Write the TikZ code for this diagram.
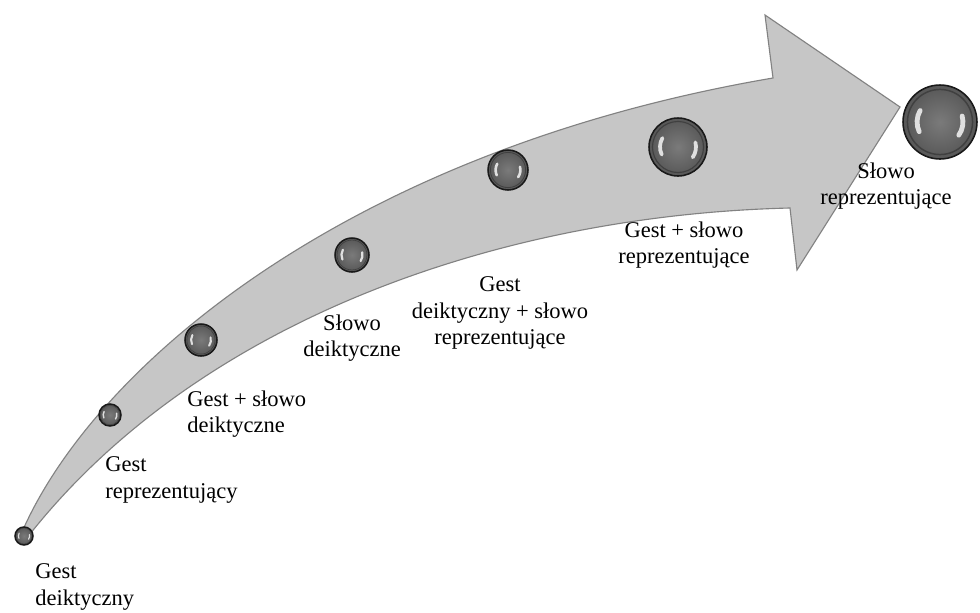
\documentclass[tikz,border=0pt]{standalone}
\usepackage{fontspec}
\setmainfont{Liberation Serif}
\definecolor{arrowgray}{RGB}{198,198,198}
\definecolor{rimgray}{RGB}{130,130,130}
\begin{document}
\begin{tikzpicture}[x=0.025cm,y=-0.025cm,
    ball/.style={circle,draw=black!90,line width=1.1pt,inner sep=0pt,
      inner color=black!52,outer color=black!66},
    shine/.style={white,line cap=round,opacity=0.8},
    lbl/.style={inner sep=0pt,font=\fontsize{16}{19}\selectfont}]
    \useasboundingbox[fill=white] (0,0) rectangle (980,612);
    % the curved arrow
    \draw[fill=arrowgray,draw=rimgray,line width=0.8pt]
        (22,532) .. controls (95,365) and (350,150) .. (773,78)
        -- (765,15) -- (900,107) -- (797,270) -- (790,208)
        .. controls (500,215) and (200,320) .. (30,534) -- cycle;
    % the spheres
    \foreach \n/\x/\y/\r in {s1/24/536/9,s2/110/415/11,s3/201/340/16,
        s4/352/255/17,s5/508/170/20,s6/678/147/29,s7/940/122/37} {
        \node[ball,minimum size=2*\r*0.025cm] (\n) at (\x,\y) {};
        \draw[black!75,line width=0.04*\r*0.025cm]
            (\n.center) circle[radius=0.88*\r*0.025cm];
        \draw[shine,line width=0.13*\r*0.025cm]
            ([shift={(205:0.62*\r*0.025cm)}]\n.center) arc (205:150:0.62*\r*0.025cm);
        \draw[shine,line width=0.13*\r*0.025cm]
            ([shift={(15:0.62*\r*0.025cm)}]\n.center) arc (15:-35:0.62*\r*0.025cm);
    }
    % labels
    \node[lbl,anchor=west,align=left] (t1) at (35,587) {Gest\\deiktyczny};
    \node[lbl,anchor=west,align=left] (t2) at (105,480) {Gest\\reprezentujący};
    \node[lbl,anchor=west,align=left] (t3) at (187,414) {Gest + słowo\\deiktyczne};
    \node[lbl,align=center] (t4) at (352,338) {Słowo\\deiktyczne};
    \node[lbl,align=center] (t5) at (500,313) {Gest\\deiktyczny + słowo\\reprezentujące};
    \node[lbl,align=center] (t6) at (684,245) {Gest + słowo\\reprezentujące};
    \node[lbl,align=center] (t7) at (886,186) {Słowo\\reprezentujące};
\end{tikzpicture}
\end{document}
